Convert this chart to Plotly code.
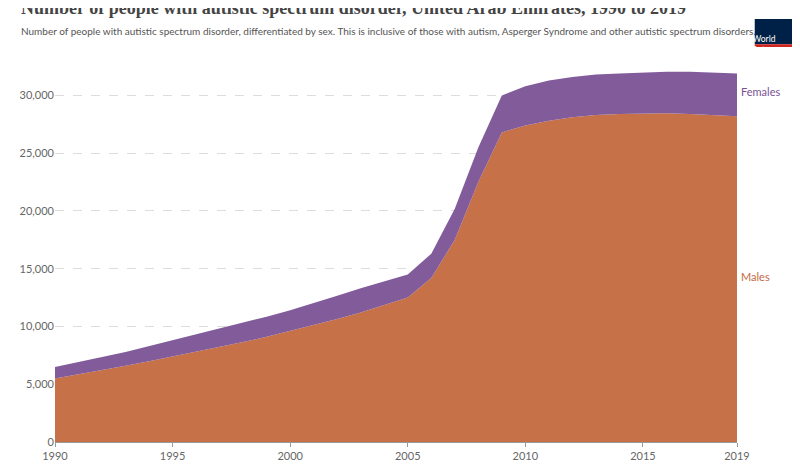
import plotly.graph_objects as go

years = list(range(1990, 2020))
males = [5500, 5850, 6200, 6600, 7000, 7400, 7800, 8200, 8650, 9100,
         9600, 10100, 10650, 11200, 11850, 12500, 14200, 17500, 22500, 26800,
         27400, 27800, 28100, 28300, 28400, 28450, 28450, 28400, 28300, 28200]
totals = [6500, 6900, 7350, 7800, 8300, 8800, 9300, 9800, 10300, 10850,
          11400, 12000, 12650, 13300, 13900, 14500, 16300, 20200, 25500, 30000,
          30800, 31300, 31600, 31800, 31900, 32000, 32050, 32050, 32000, 31900]
females = [t - m for t, m in zip(totals, males)]

male_col = "#C4693F"
female_col = "#7A5295"

fig = go.Figure()
fig.add_trace(go.Scatter(x=years, y=males, stackgroup="a", mode="lines",
                         line=dict(width=0, color=male_col), fillcolor="rgba(196,105,63,0.95)",
                         name="Males"))
fig.add_trace(go.Scatter(x=years, y=females, stackgroup="a", mode="lines",
                         line=dict(width=0, color=female_col), fillcolor="rgba(122,82,149,0.95)",
                         name="Females"))

fig.add_annotation(x=1, xref="paper", y=totals[-1] - females[-1] / 2 + 300, yref="y",
                   text="Females", showarrow=False, xanchor="left", xshift=2,
                   font=dict(family="Lato", size=11, color=female_col))
fig.add_annotation(x=1, xref="paper", y=14300, yref="y",
                   text="Males", showarrow=False, xanchor="left", xshift=2,
                   font=dict(family="Lato", size=11, color=male_col))

# title + subtitle (paper coords extend above plot area)
fig.add_annotation(x=-0.053, xref="paper", y=1.168, yref="paper", yanchor="middle",
                   text="<b>Number of people with autistic spectrum disorder, United Arab Emirates, 1990 to 2019</b>",
                   showarrow=False, xanchor="left",
                   font=dict(family="Liberation Serif", size=18, color="#444"))
fig.add_annotation(x=-0.053, xref="paper", y=1.105, yref="paper", yanchor="middle",
                   text="Number of people with autistic spectrum disorder, differentiated by sex. This is inclusive of those with autism, Asperger Syndrome and other autistic spectrum disorders.",
                   showarrow=False, xanchor="left",
                   font=dict(family="Lato", size=10, color="#555"))

# logo
fig.add_shape(type="rect", xref="paper", yref="paper", x0=1.026, x1=1.093, y0=1.069, y1=1.137,
              fillcolor="#002147", line=dict(width=0))
fig.add_shape(type="rect", xref="paper", yref="paper", x0=1.026, x1=1.093, y0=1.062, y1=1.069,
              fillcolor="#CE261E", line=dict(width=0))
fig.add_annotation(x=1.0595, xref="paper", y=1.103, yref="paper", text="Our World<br>in Data",
                   showarrow=False, font=dict(family="Lato", size=8.5, color="white"))

fig.update_layout(
    width=800, height=466,
    paper_bgcolor="white", plot_bgcolor="white",
    margin=dict(l=43, r=71, t=62, b=25),
    showlegend=False,
    xaxis=dict(range=[1990, 2019], tickvals=[1990, 1995, 2000, 2005, 2010, 2015, 2019],
               showgrid=False, showline=True, linecolor="#999", ticks="outside",
               ticklen=4, tickcolor="#999",
               tickfont=dict(family="Lato", size=11, color="#666")),
    yaxis=dict(range=[0, 32200], tickvals=[0, 5000, 10000, 15000, 20000, 25000, 30000],
               tickformat=",", showgrid=True, gridcolor="#ddd", griddash="dash",
               zeroline=False, tickfont=dict(family="Lato", size=11, color="#666")),
)

fig.write_html("out.html")
